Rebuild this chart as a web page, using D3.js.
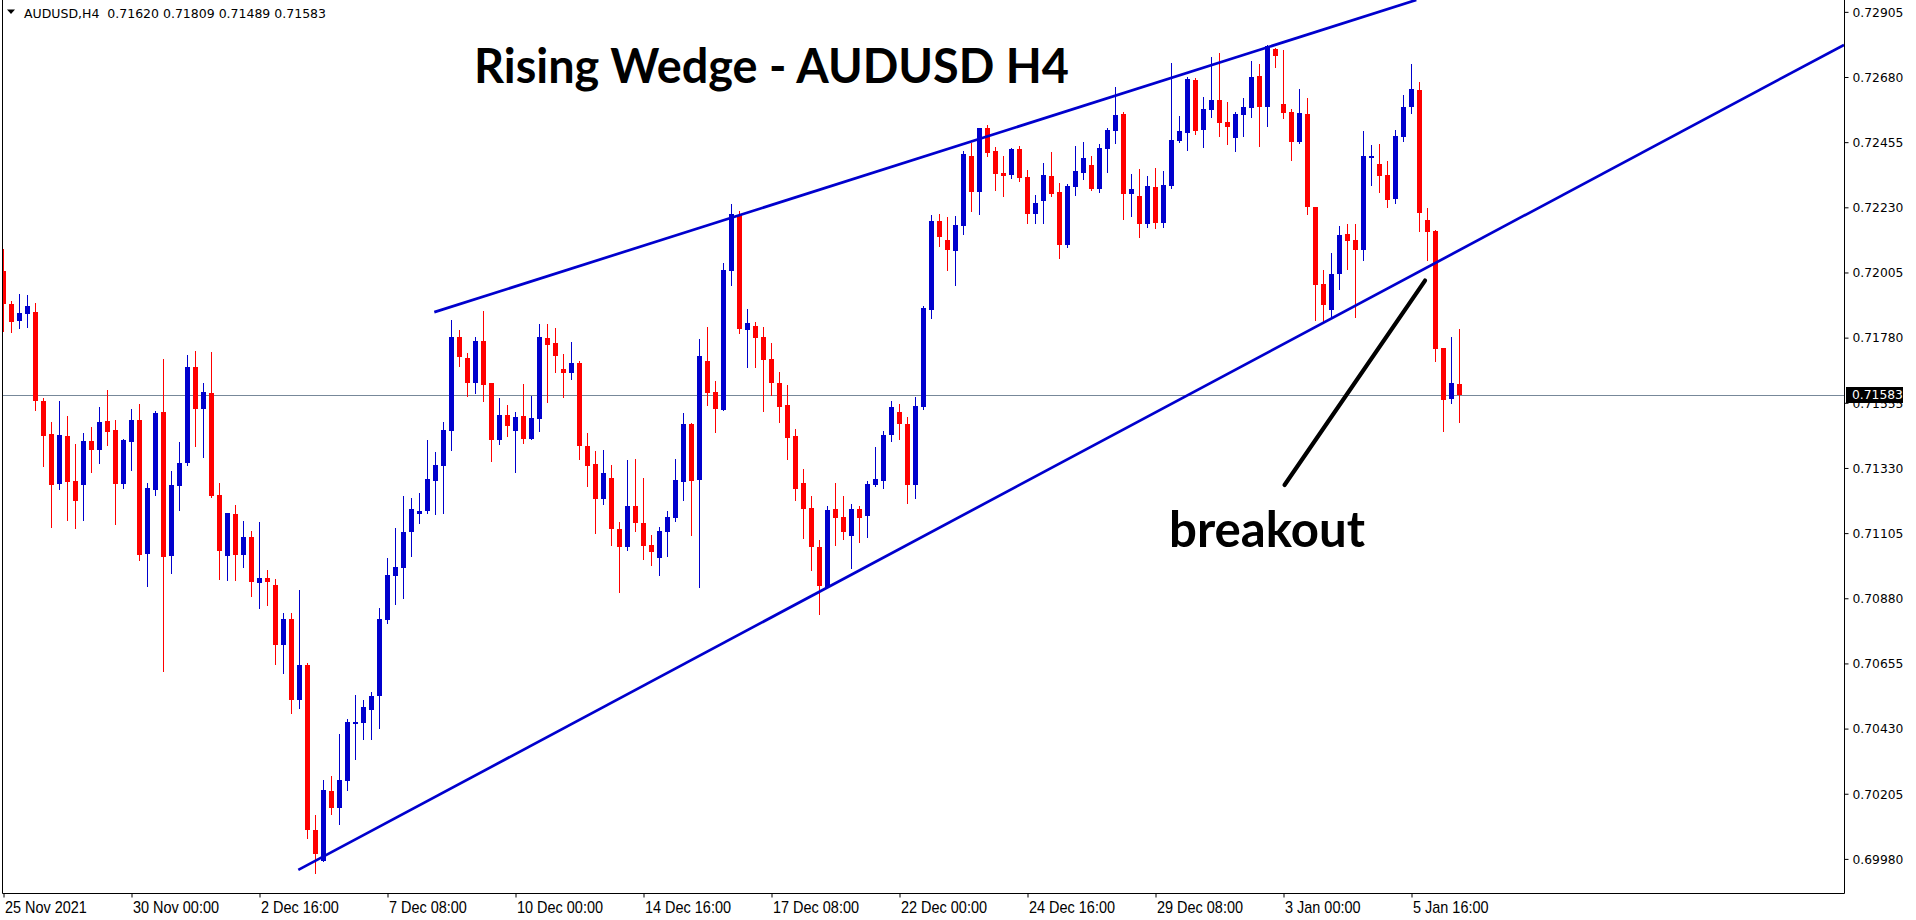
<!DOCTYPE html>
<html><head><meta charset="utf-8">
<script src="https://cdnjs.cloudflare.com/ajax/libs/d3/7.8.5/d3.min.js"></script>
<style>
html,body{margin:0;padding:0;background:#fff;overflow:hidden}
svg{display:block}
</style></head><body>
<svg id="c" width="1916" height="920"></svg>
<script>
// ---- DATA (AUDUSD H4 candles, left to right) ----
const openP = [0.72010,0.71895,0.71839,0.71863,0.71869,0.71562,0.71447,0.71276,0.71440,0.71285,
0.71272,0.71423,0.71393,0.71492,0.71461,0.71276,0.71421,0.71496,0.71034,0.71255,
0.71523,0.71027,0.71269,0.71348,0.71679,0.71535,0.71589,0.71237,0.71027,0.71171,
0.71030,0.71092,0.70934,0.70950,0.70926,0.70720,0.70809,0.70530,0.70650,0.70081,
0.69974,0.70216,0.70157,0.70250,0.70447,0.70450,0.70495,0.70544,0.70806,0.70958,
0.70986,0.71109,0.71172,0.71180,0.71286,0.71338,0.71459,0.71782,0.71710,0.71624,
0.71768,0.71623,0.71428,0.71513,0.71459,0.71510,0.71431,0.71500,0.71779,0.71762,
0.71672,0.71659,0.71693,0.71406,0.71344,0.71224,0.71295,0.71119,0.71058,0.71199,
0.71140,0.71064,0.71020,0.71110,0.71158,0.71283,0.71482,0.71290,0.71699,0.71592,
0.71531,0.72011,0.72204,0.71808,0.71820,0.71782,0.71706,0.71623,0.71547,0.71440,
0.71278,0.71192,0.71057,0.70920,0.71188,0.71161,0.71096,0.71188,0.71165,0.71272,
0.71286,0.71445,0.71523,0.71482,0.71272,0.71541,0.71877,0.72183,0.72117,0.72080,
0.72167,0.72407,0.72284,0.72504,0.72425,0.72349,0.72343,0.72431,0.72335,0.72208,
0.72253,0.72339,0.72283,0.72101,0.72301,0.72350,0.72376,0.72294,0.72432,0.72495,
0.72552,0.72277,0.72269,0.72174,0.72300,0.72177,0.72305,0.72460,0.72488,0.72670,
0.72498,0.72567,0.72601,0.72526,0.72470,0.72550,0.72574,0.72683,0.72577,0.72777,
0.72587,0.72559,0.72455,0.72552,0.72231,0.71965,0.71877,0.72001,0.72138,0.72117,
0.72084,0.72401,0.72380,0.72342,0.72260,0.72474,0.72577,0.72635,0.72186,0.72149,
0.71744,0.71569,0.71620];
const highP = [0.72086,0.71907,0.71931,0.71927,0.71900,0.71572,0.71489,0.71562,0.71510,0.71413,
0.71451,0.71472,0.71541,0.71599,0.71496,0.71430,0.71534,0.71551,0.71278,0.71528,
0.71706,0.71320,0.71420,0.71720,0.71734,0.71623,0.71730,0.71278,0.71175,0.71202,
0.71147,0.71112,0.71143,0.70978,0.70947,0.70829,0.70829,0.70909,0.70657,0.70132,
0.70254,0.70267,0.70412,0.70463,0.70546,0.70530,0.70556,0.70846,0.71019,0.71123,
0.71233,0.71226,0.71244,0.71427,0.71385,0.71489,0.71841,0.71806,0.71727,0.71782,
0.71872,0.71623,0.71572,0.71547,0.71523,0.71620,0.71579,0.71827,0.71827,0.71813,
0.71724,0.71765,0.71699,0.71451,0.71389,0.71392,0.71340,0.71143,0.71358,0.71361,
0.71296,0.71099,0.71126,0.71181,0.71361,0.71520,0.71485,0.71775,0.71817,0.71630,
0.72038,0.72242,0.72217,0.71879,0.71834,0.71817,0.71762,0.71661,0.71617,0.71465,
0.71326,0.71234,0.71082,0.71199,0.71278,0.71233,0.71206,0.71199,0.71286,0.71403,
0.71458,0.71561,0.71551,0.71506,0.71575,0.71889,0.72204,0.72207,0.72197,0.72200,
0.72425,0.72452,0.72504,0.72514,0.72438,0.72407,0.72435,0.72442,0.72360,0.72274,
0.72383,0.72421,0.72314,0.72311,0.72442,0.72456,0.72407,0.72449,0.72504,0.72646,
0.72559,0.72345,0.72362,0.72338,0.72366,0.72355,0.72728,0.72545,0.72680,0.72677,
0.72611,0.72749,0.72763,0.72594,0.72559,0.72608,0.72735,0.72725,0.72791,0.72779,
0.72773,0.72570,0.72639,0.72608,0.72231,0.72014,0.72072,0.72166,0.72172,0.72172,
0.72494,0.72445,0.72449,0.72390,0.72497,0.72618,0.72725,0.72663,0.72228,0.72152,
0.71744,0.71783,0.71809];
const lowP = [0.71804,0.71801,0.71814,0.71818,0.71531,0.71338,0.71127,0.71258,0.71150,0.71124,
0.71151,0.71316,0.71348,0.71410,0.71138,0.71262,0.71324,0.71013,0.70924,0.71237,
0.70630,0.70968,0.71185,0.71341,0.71407,0.71369,0.71231,0.70947,0.70943,0.70943,
0.70989,0.70889,0.70848,0.70858,0.70654,0.70623,0.70485,0.70502,0.70053,0.69933,
0.69974,0.70136,0.70102,0.70219,0.70326,0.70395,0.70395,0.70433,0.70796,0.70861,
0.70882,0.71027,0.71141,0.71175,0.71172,0.71176,0.71393,0.71683,0.71580,0.71590,
0.71562,0.71355,0.71414,0.71441,0.71317,0.71417,0.71431,0.71459,0.71559,0.71662,
0.71576,0.71638,0.71362,0.71269,0.71107,0.71207,0.71065,0.70903,0.71048,0.71113,
0.71017,0.70996,0.70962,0.71027,0.71148,0.71220,0.71100,0.70920,0.71549,0.71455,
0.71531,0.71963,0.71797,0.71680,0.71680,0.71528,0.71583,0.71490,0.71362,0.71220,
0.71089,0.70979,0.70827,0.70920,0.71065,0.71086,0.70986,0.71075,0.71093,0.71269,
0.71262,0.71424,0.71431,0.71210,0.71227,0.71534,0.71849,0.72098,0.72015,0.71963,
0.72139,0.72218,0.72208,0.72408,0.72291,0.72270,0.72332,0.72322,0.72177,0.72177,
0.72177,0.72270,0.72056,0.72094,0.72274,0.72329,0.72291,0.72284,0.72353,0.72453,
0.72191,0.72201,0.72129,0.72163,0.72160,0.72163,0.72295,0.72457,0.72429,0.72484,
0.72439,0.72543,0.72477,0.72450,0.72426,0.72477,0.72543,0.72443,0.72512,0.72716,
0.72540,0.72394,0.72452,0.72208,0.71841,0.71839,0.71852,0.71949,0.72018,0.71852,
0.72049,0.72308,0.72284,0.72232,0.72246,0.72460,0.72557,0.72149,0.72049,0.71700,
0.71459,0.71555,0.71489];
const closeP = [0.71895,0.71835,0.71865,0.71889,0.71560,0.71441,0.71272,0.71444,0.71283,0.71217,
0.71423,0.71393,0.71489,0.71455,0.71276,0.71427,0.71496,0.71030,0.71261,0.71520,
0.71023,0.71271,0.71347,0.71679,0.71535,0.71592,0.71234,0.71044,0.71175,0.71030,
0.71092,0.70937,0.70950,0.70937,0.70720,0.70809,0.70530,0.70650,0.70081,0.69998,
0.70219,0.70157,0.70254,0.70453,0.70453,0.70505,0.70543,0.70809,0.70961,0.70988,
0.71109,0.71188,0.71181,0.71292,0.71340,0.71461,0.71782,0.71714,0.71624,0.71768,
0.71618,0.71428,0.71513,0.71476,0.71506,0.71431,0.71503,0.71782,0.71756,0.71718,
0.71659,0.71693,0.71407,0.71338,0.71224,0.71313,0.71120,0.71058,0.71199,0.71141,
0.71062,0.71041,0.71112,0.71161,0.71289,0.71482,0.71286,0.71717,0.71590,0.71535,
0.72014,0.72207,0.71811,0.71831,0.71780,0.71704,0.71624,0.71542,0.71435,0.71258,
0.71189,0.71058,0.70924,0.71185,0.71158,0.71110,0.71188,0.71158,0.71275,0.71292,
0.71444,0.71542,0.71483,0.71272,0.71544,0.71882,0.72183,0.72129,0.72083,0.72169,
0.72414,0.72284,0.72504,0.72419,0.72346,0.72339,0.72432,0.72332,0.72208,0.72245,
0.72342,0.72277,0.72101,0.72305,0.72355,0.72400,0.72294,0.72435,0.72497,0.72549,
0.72277,0.72293,0.72174,0.72304,0.72177,0.72307,0.72462,0.72494,0.72673,0.72495,
0.72570,0.72601,0.72522,0.72508,0.72552,0.72576,0.72680,0.72577,0.72788,0.72754,
0.72557,0.72457,0.72556,0.72232,0.71962,0.71893,0.71999,0.72134,0.72115,0.72084,
0.72407,0.72407,0.72339,0.72256,0.72476,0.72576,0.72639,0.72212,0.72146,0.71742,
0.71566,0.71623,0.71583];

const xTickBars = [0,16,32,48,64,80,96,112,128,144,160,176];
const xTickLabels = ["25 Nov 2021","30 Nov 00:00","2 Dec 16:00","7 Dec 08:00","10 Dec 00:00",
  "14 Dec 16:00","17 Dec 08:00","22 Dec 00:00","24 Dec 16:00","29 Dec 08:00","3 Jan 00:00","5 Jan 16:00"];
const yTicks = [0.72905,0.72680,0.72455,0.72230,0.72005,0.71780,0.71555,0.71330,0.71105,
  0.70880,0.70655,0.70430,0.70205,0.69980];
// trend lines: [bar index, price]
const upperTrend = [[53.85,0.71868],[176.6,0.72946]];
const lowerTrend = [[36.85,0.69942],[230.06,0.72791]];
const breakoutPointer = [[160.13,0.71271],[177.69,0.71977]];
const lastPrice = 0.71583;
const headerInfo = "AUDUSD,H4  0.71620 0.71809 0.71489 0.71583";
const titleText = "Rising Wedge - AUDUSD H4";
const noteText = "breakout";

// ---- LAYOUT ----
const plotL = 2.5, plotR = 1844.5, plotB = 893.5;
const svg = d3.select("#c");
const x = d3.scaleLinear().domain([0, 182]).range([3.5, 1459.5]);
const y = d3.scaleLinear().domain([0.69980, 0.72905]).range([858.9, 11.85]);
const BLUE = "#0000CD", RED = "#FF0000";

svg.append("defs").append("clipPath").attr("id","plotClip")
  .append("rect").attr("x",3).attr("y",0).attr("width",plotR-3.5).attr("height",plotB-0.5);

const plot = svg.append("g").attr("clip-path","url(#plotClip)");

// current price line
const ly = Math.round(y(lastPrice)) + 0.5;
plot.append("line").attr("x1",plotL).attr("x2",plotR).attr("y1",ly).attr("y2",ly)
  .attr("stroke","#778899").attr("stroke-width",1);

// candles
const bars = d3.range(openP.length).map(i => ({i, o:openP[i], h:highP[i], l:lowP[i], c:closeP[i]}));
const cg = plot.append("g").attr("shape-rendering","crispEdges");
cg.selectAll("line.w").data(bars).join("line").attr("class","w")
  .attr("x1", d => x(d.i)).attr("x2", d => x(d.i))
  .attr("y1", d => Math.round(y(d.h))).attr("y2", d => Math.round(y(d.l)) + 1)
  .attr("stroke", d => d.c >= d.o ? BLUE : RED).attr("stroke-width",1);
cg.selectAll("rect.b").data(bars).join("rect").attr("class","b")
  .attr("x", d => x(d.i) - 2.5).attr("width",5)
  .attr("y", d => Math.round(y(Math.max(d.o,d.c))))
  .attr("height", d => Math.max(1, Math.round(y(Math.min(d.o,d.c))) - Math.round(y(Math.max(d.o,d.c)))))
  .attr("fill", d => d.c >= d.o ? BLUE : RED);

// trend lines
const lineGen = d3.line().x(d => x(d[0])).y(d => y(d[1]));
[upperTrend, lowerTrend].forEach(t => {
  plot.append("path").attr("d", lineGen(t)).attr("fill","none")
    .attr("stroke",BLUE).attr("stroke-width",2.7);
});
plot.append("path").attr("d", lineGen(breakoutPointer)).attr("fill","none")
  .attr("stroke","#000").attr("stroke-width",4.2).attr("stroke-linecap","round");

// frame
svg.append("line").attr("x1",plotL).attr("x2",plotL).attr("y1",0).attr("y2",plotB).attr("stroke","#000");
svg.append("line").attr("x1",plotR).attr("x2",plotR).attr("y1",0).attr("y2",plotB).attr("stroke","#000");
svg.append("line").attr("x1",plotL).attr("x2",plotR).attr("y1",plotB).attr("y2",plotB).attr("stroke","#000");

// right axis
const yAxis = d3.axisRight(y).tickValues(yTicks).tickFormat(d3.format(".5f")).tickSize(4).tickPadding(4);
const ya = svg.append("g").attr("transform",`translate(${plotR},0)`).call(yAxis);
ya.select(".domain").remove();
ya.selectAll("line").attr("stroke","#000");
ya.selectAll("text").attr("font-family","DejaVu Sans").attr("font-size",12.3).attr("fill","#000")
  .attr("dy","0.35em");

// current price label
const lp = svg.append("g");
lp.append("rect").attr("x",plotR+1.5).attr("y",Math.round(y(lastPrice))-8).attr("width",57).attr("height",16).attr("fill","#000");
lp.append("text").attr("x",plotR+7.5).attr("y",y(lastPrice)).attr("dy","0.35em")
  .attr("font-family","DejaVu Sans").attr("font-size",12.3).attr("fill","#fff")
  .text(d3.format(".5f")(lastPrice));

// bottom axis
const xAxis = d3.axisBottom(x).tickValues(xTickBars).tickFormat((d,k) => xTickLabels[k]).tickSize(4).tickPadding(4);
const xa = svg.append("g").attr("transform",`translate(0,${plotB})`).call(xAxis);
xa.select(".domain").remove();
xa.selectAll("line").attr("stroke","#000");
xa.selectAll("text").attr("font-family","Liberation Sans").attr("font-size",17).attr("fill","#000")
  .attr("text-anchor","start").attr("dx",1).attr("dy","0.68em")
  .each(function(){ const w = this.getComputedTextLength(); this.setAttribute("textLength", (w*0.85).toFixed(1)); this.setAttribute("lengthAdjust","spacingAndGlyphs"); });

// header
svg.append("path").attr("d","M7,9.5 L15,9.5 L11,14 Z").attr("fill","#000");
svg.append("text").attr("x",24).attr("y",18.3).attr("xml:space","preserve").style("white-space","pre")
  .attr("font-family","DejaVu Sans").attr("font-size",12).attr("fill","#000")
  .attr("textLength",302).attr("lengthAdjust","spacingAndGlyphs").text(headerInfo);

// annotations
svg.append("text").attr("x",474).attr("y",83).attr("font-family","Lato").attr("font-weight",700)
  .attr("font-size",48).attr("fill","#000").attr("textLength",595).attr("lengthAdjust","spacingAndGlyphs").text(titleText);
svg.append("text").attr("x",1169).attr("y",547).attr("font-family","Lato").attr("font-weight",700)
  .attr("font-size",50).attr("fill","#000").attr("textLength",196).attr("lengthAdjust","spacingAndGlyphs").text(noteText);
</script>
</body></html>
